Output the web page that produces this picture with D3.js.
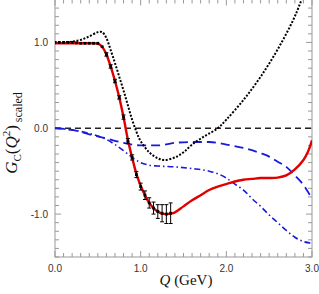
<!DOCTYPE html>
<html><head><meta charset="utf-8">
<script src="https://cdn.jsdelivr.net/npm/d3@7"></script>
<style>body{margin:0;background:#fff}svg{display:block}</style>
</head><body>
<svg id="c" width="319" height="294"></svg>
<script>
// data points with error bars
const dataQ = [0,0.05,0.1,0.15,0.2,0.25,0.3,0.35,0.4,0.45,0.5,0.55,0.6,0.65,0.7,0.75,0.8,0.85,0.9,0.95,1.0,1.05,1.1,1.15,1.2,1.25,1.3,1.35];
const dataG = [1.0,1.0,1.0,1.0,1.0,0.995,0.99,0.99,0.99,0.99,0.99,0.95,0.86,0.72,0.55,0.36,0.13,-0.15,-0.34,-0.54,-0.68,-0.78,-0.87,-0.93,-0.97,-0.99,-1.0,-0.99];
const dataErr = [0.005,0.005,0.005,0.005,0.005,0.005,0.005,0.005,0.01,0.01,0.01,0.015,0.02,0.02,0.02,0.02,0.025,0.03,0.03,0.035,0.04,0.05,0.06,0.07,0.08,0.1,0.11,0.12];
// red fit curve
const redQ = [0,0.1,0.2,0.3,0.4,0.5,0.55,0.6,0.65,0.7,0.75,0.8,0.85,0.9,0.95,1.0,1.05,1.1,1.15,1.2,1.25,1.3,1.35,1.4,1.5,1.6,1.7,1.8,1.9,2.0,2.1,2.2,2.3,2.4,2.5,2.6,2.7,2.8,2.9,2.95,3.0];
const redG = [0.99,0.99,0.99,0.99,0.99,0.985,0.95,0.86,0.72,0.55,0.36,0.13,-0.13,-0.34,-0.53,-0.67,-0.78,-0.87,-0.93,-0.97,-0.995,-1.0,-0.995,-0.98,-0.91,-0.84,-0.78,-0.72,-0.68,-0.65,-0.62,-0.6,-0.59,-0.58,-0.58,-0.575,-0.55,-0.48,-0.37,-0.28,-0.14];
// black dotted model
const blkQ = [0,0.1,0.2,0.3,0.4,0.5,0.55,0.6,0.65,0.7,0.75,0.8,0.85,0.9,0.95,1.0,1.1,1.2,1.28,1.4,1.5,1.6,1.75,1.9,2.0,2.2,2.4,2.6,2.78,2.86,2.92];
const blkG = [1.0,1.0,1.01,1.03,1.07,1.12,1.12,1.05,0.91,0.76,0.6,0.44,0.27,0.1,-0.04,-0.15,-0.28,-0.35,-0.37,-0.34,-0.28,-0.19,-0.09,0.0,0.1,0.33,0.6,0.92,1.26,1.45,1.6];
// blue dashed
const bdQ = [0,0.2,0.4,0.6,0.8,1.0,1.2,1.4,1.6,1.8,2.0,2.2,2.4,2.5,2.6,2.7,2.8,2.9,3.0];
const bdG = [0,-0.02,-0.07,-0.12,-0.17,-0.2,-0.2,-0.17,-0.16,-0.16,-0.19,-0.23,-0.29,-0.33,-0.39,-0.45,-0.55,-0.66,-0.82];
// blue dash-dot
const bddQ = [0,0.2,0.4,0.5,0.6,0.7,0.8,0.9,1.0,1.1,1.2,1.4,1.6,1.8,1.9,2.0,2.1,2.2,2.3,2.4,2.5,2.6,2.7,2.8,2.9,3.0];
const bddG = [0,-0.02,-0.06,-0.09,-0.13,-0.19,-0.26,-0.34,-0.4,-0.43,-0.44,-0.45,-0.47,-0.5,-0.53,-0.58,-0.65,-0.72,-0.82,-0.91,-1.01,-1.1,-1.19,-1.27,-1.32,-1.34];
const xTicks = [0,1,2,3];
const yTicks = [-1,0,1];

const svg = d3.select("#c");
const x = d3.scaleLinear().domain([0,3]).range([55,312]);
const y = d3.scaleLinear().domain([-1.5,1.5]).range([257,-0.5]);
const X0=x(0), X1=x(3), Y0=y(-1.5), Y1=y(1.5);

svg.append("defs").append("clipPath").attr("id","clip")
  .append("rect").attr("x",X0).attr("y",Y1).attr("width",X1-X0).attr("height",Y0-Y1);

const axc = "#999";
const g = svg.append("g");
// minor & major ticks
const xminor = d3.range(0,31).map(i=>i/10);
const yminor = d3.range(-15,16).map(i=>i/10);
xminor.forEach(v=>{
  const major = Math.abs(v-Math.round(v))<1e-6;
  const L = major?6:4;
  g.append("line").attr("x1",x(v)).attr("x2",x(v)).attr("y1",Y0).attr("y2",Y0-L).attr("stroke",axc);
  g.append("line").attr("x1",x(v)).attr("x2",x(v)).attr("y1",Y1).attr("y2",Y1+L).attr("stroke",axc);
});
yminor.forEach(v=>{
  const major = Math.abs(v*2-Math.round(v*2))<1e-6 && Math.abs(v-Math.round(v))<1e-6;
  const L = major?6:4;
  g.append("line").attr("y1",y(v)).attr("y2",y(v)).attr("x1",X0).attr("x2",X0+L).attr("stroke",axc);
  g.append("line").attr("y1",y(v)).attr("y2",y(v)).attr("x1",X1).attr("x2",X1-L).attr("stroke",axc);
});
g.append("rect").attr("x",X0).attr("y",Y1).attr("width",X1-X0).attr("height",Y0-Y1)
  .attr("fill","none").attr("stroke",axc).attr("stroke-width",1);

// tick labels
xTicks.forEach(v=>{
  svg.append("text").attr("x",x(v)).attr("y",Y0+15).attr("text-anchor","middle")
    .attr("font-family","Liberation Sans, Arial, sans-serif").attr("font-size",10).attr("fill","#333")
    .text(v.toFixed(1));
});
yTicks.forEach(v=>{
  svg.append("text").attr("x",X0-7).attr("y",y(v)+3.5).attr("text-anchor","end")
    .attr("font-family","Liberation Sans, Arial, sans-serif").attr("font-size",10).attr("fill","#333")
    .text(v.toFixed(1));
});

const plot = svg.append("g").attr("clip-path","url(#clip)");
const line = (qs,gs,c)=> d3.line().x(i=>x(qs[i])).y(i=>y(gs[i])).curve(c||d3.curveMonotoneX)(d3.range(qs.length));

// zero dashed line
plot.append("line").attr("x1",X0).attr("x2",X1).attr("y1",y(0)).attr("y2",y(0))
  .attr("stroke","#222").attr("stroke-width",1.4).attr("stroke-dasharray","6,4");
// blue dashed
plot.append("path").attr("d",line(bdQ,bdG)).attr("fill","none").attr("stroke","#1a1adc")
  .attr("stroke-width",1.8).attr("stroke-dasharray","9,5");
// blue dash-dot
plot.append("path").attr("d",line(bddQ,bddG)).attr("fill","none").attr("stroke","#1a1adc")
  .attr("stroke-width",1.6).attr("stroke-dasharray","6,3,1.5,3");
// black dotted
plot.append("path").attr("d",line(blkQ,blkG,d3.curveCatmullRom)).attr("fill","none").attr("stroke","#000")
  .attr("stroke-width",2).attr("stroke-dasharray","2,1.6");
// red
plot.append("path").attr("d",line(redQ,redG,d3.curveCatmullRom)).attr("fill","none").attr("stroke","#e00000")
  .attr("stroke-width",2.4);
// data points
dataQ.forEach((q,i)=>{
  const cx=x(q), e=dataErr[i];
  if (e>0.015) {
    plot.append("line").attr("x1",cx).attr("x2",cx).attr("y1",y(dataG[i]-e)).attr("y2",y(dataG[i]+e)).attr("stroke","#000").attr("stroke-width",1);
    [dataG[i]-e,dataG[i]+e].forEach(v=>plot.append("line").attr("x1",cx-2).attr("x2",cx+2).attr("y1",y(v)).attr("y2",y(v)).attr("stroke","#000").attr("stroke-width",1));
  }
  plot.append("rect").attr("x",cx-1.4).attr("y",y(dataG[i])-1.4).attr("width",2.8).attr("height",2.8).attr("fill","#000");
});

// axis titles
const xt = svg.append("text").attr("x",186).attr("y",285).attr("text-anchor","middle")
  .attr("font-family","Liberation Serif, Times New Roman, serif").attr("font-size",15).attr("fill","#111");
xt.append("tspan").attr("font-style","italic").text("Q");
xt.append("tspan").text(" (GeV)");

const yt = svg.append("text").attr("transform","translate(17,133) rotate(-90)").attr("text-anchor","middle")
  .attr("font-family","Liberation Serif, Times New Roman, serif").attr("font-size",17).attr("fill","#111");
yt.append("tspan").attr("font-style","italic").text("G");
yt.append("tspan").attr("font-size",11).attr("dy",4).text("C");
yt.append("tspan").attr("dy",-4).text("(");
yt.append("tspan").attr("font-style","italic").text("Q");
yt.append("tspan").attr("font-size",11).attr("dy",-7).text("2");
yt.append("tspan").attr("dy",7).text(")");
yt.append("tspan").attr("font-size",12).attr("dy",5).text(" scaled");
</script>
</body></html>
